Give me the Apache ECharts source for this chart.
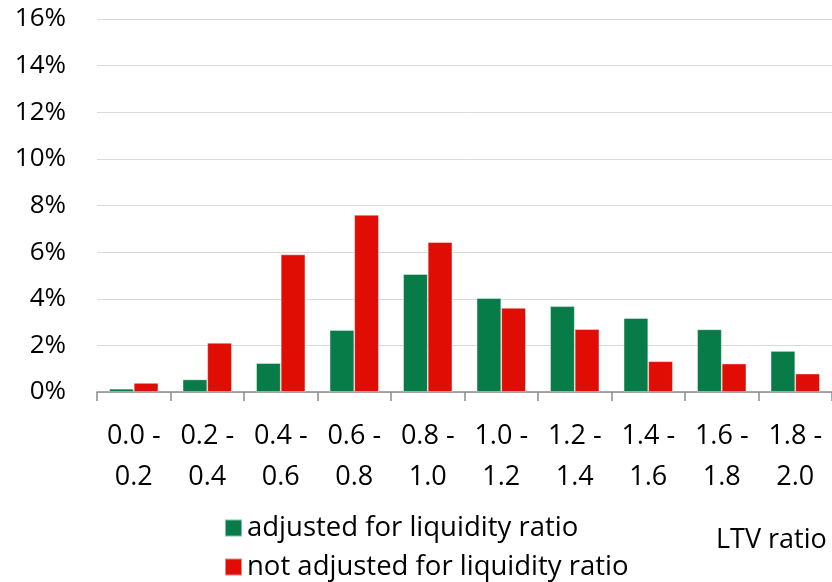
<!DOCTYPE html>
<html>
<head>
<meta charset="utf-8">
<script src="https://cdn.jsdelivr.net/npm/echarts@6/dist/echarts.min.js"></script>
<style>html,body{margin:0;padding:0;background:#fff;}#c{width:832px;height:582px;}</style>
</head>
<body>
<div id="c"></div>
<script>
const categories = ['0.0 -\n0.2','0.2 -\n0.4','0.4 -\n0.6','0.6 -\n0.8','0.8 -\n1.0','1.0 -\n1.2','1.2 -\n1.4','1.4 -\n1.6','1.6 -\n1.8','1.8 -\n2.0'];
const adjusted = [0.14, 0.54, 1.24, 2.66, 5.06, 4.03, 3.68, 3.17, 2.69, 1.76];
const notAdjusted = [0.39, 2.11, 5.90, 7.60, 6.43, 3.61, 2.70, 1.32, 1.22, 0.79];
const seriesNames = ['adjusted for liquidity ratio', 'not adjusted for liquidity ratio'];
const axisTitle = 'LTV ratio';

const FONT = '"Open Sans", sans-serif';
const legendText = {fontFamily: FONT, fontSize: 27.5, color: '#000', lineHeight: 28};
const chart = echarts.init(document.getElementById('c'), null, {renderer: 'canvas'});
chart.setOption({
  animation: false,
  backgroundColor: '#ffffff',
  textStyle: {fontFamily: FONT, color: '#000'},
  grid: {left: 97, top: 19, width: 739, height: 373, containLabel: false},
  legend: [
    {left: 224, top: 514, padding: [0, 0, 0, 0], itemWidth: 17, itemHeight: 17, icon: 'rect', textStyle: legendText, data: [seriesNames[0]]},
    {left: 224, top: 553, padding: [0, 0, 0, 0], itemWidth: 17, itemHeight: 17, icon: 'rect', textStyle: legendText, data: [seriesNames[1]]}
  ],
  xAxis: {
    type: 'category',
    data: categories,
    axisLine: {show: true, lineStyle: {color: '#8c8c8c', width: 1.5}},
    axisTick: {show: true, length: 9, lineStyle: {color: '#8c8c8c', width: 1.5}},
    axisLabel: {fontFamily: FONT, fontSize: 27, color: '#000', lineHeight: 41, margin: 24, align: 'center', interval: 0},
    splitLine: {show: false}
  },
  yAxis: {
    type: 'value',
    min: 0, max: 16, interval: 2,
    axisLine: {show: false},
    axisTick: {show: false},
    axisLabel: {fontFamily: FONT, fontSize: 26, color: '#000', margin: 31, formatter: '{value}%'},
    splitLine: {show: true, lineStyle: {color: '#d9d9d9', width: 1}}
  },
  graphic: [{
    type: 'text', left: 716, top: 527,
    style: {text: axisTitle, fontFamily: FONT, fontSize: 27, fill: '#000'}
  }],
  series: [
    {name: seriesNames[0], type: 'bar', data: adjusted, barGap: '0%', barCategoryGap: '33%',
     itemStyle: {color: '#077B48', borderColor: 'rgba(255,255,255,0.5)', borderWidth: 0.8}},
    {name: seriesNames[1], type: 'bar', data: notAdjusted, barGap: '0%', barCategoryGap: '33%',
     itemStyle: {color: '#DF0D03', borderColor: 'rgba(255,255,255,0.5)', borderWidth: 0.8}}
  ]
});
</script>
</body>
</html>
